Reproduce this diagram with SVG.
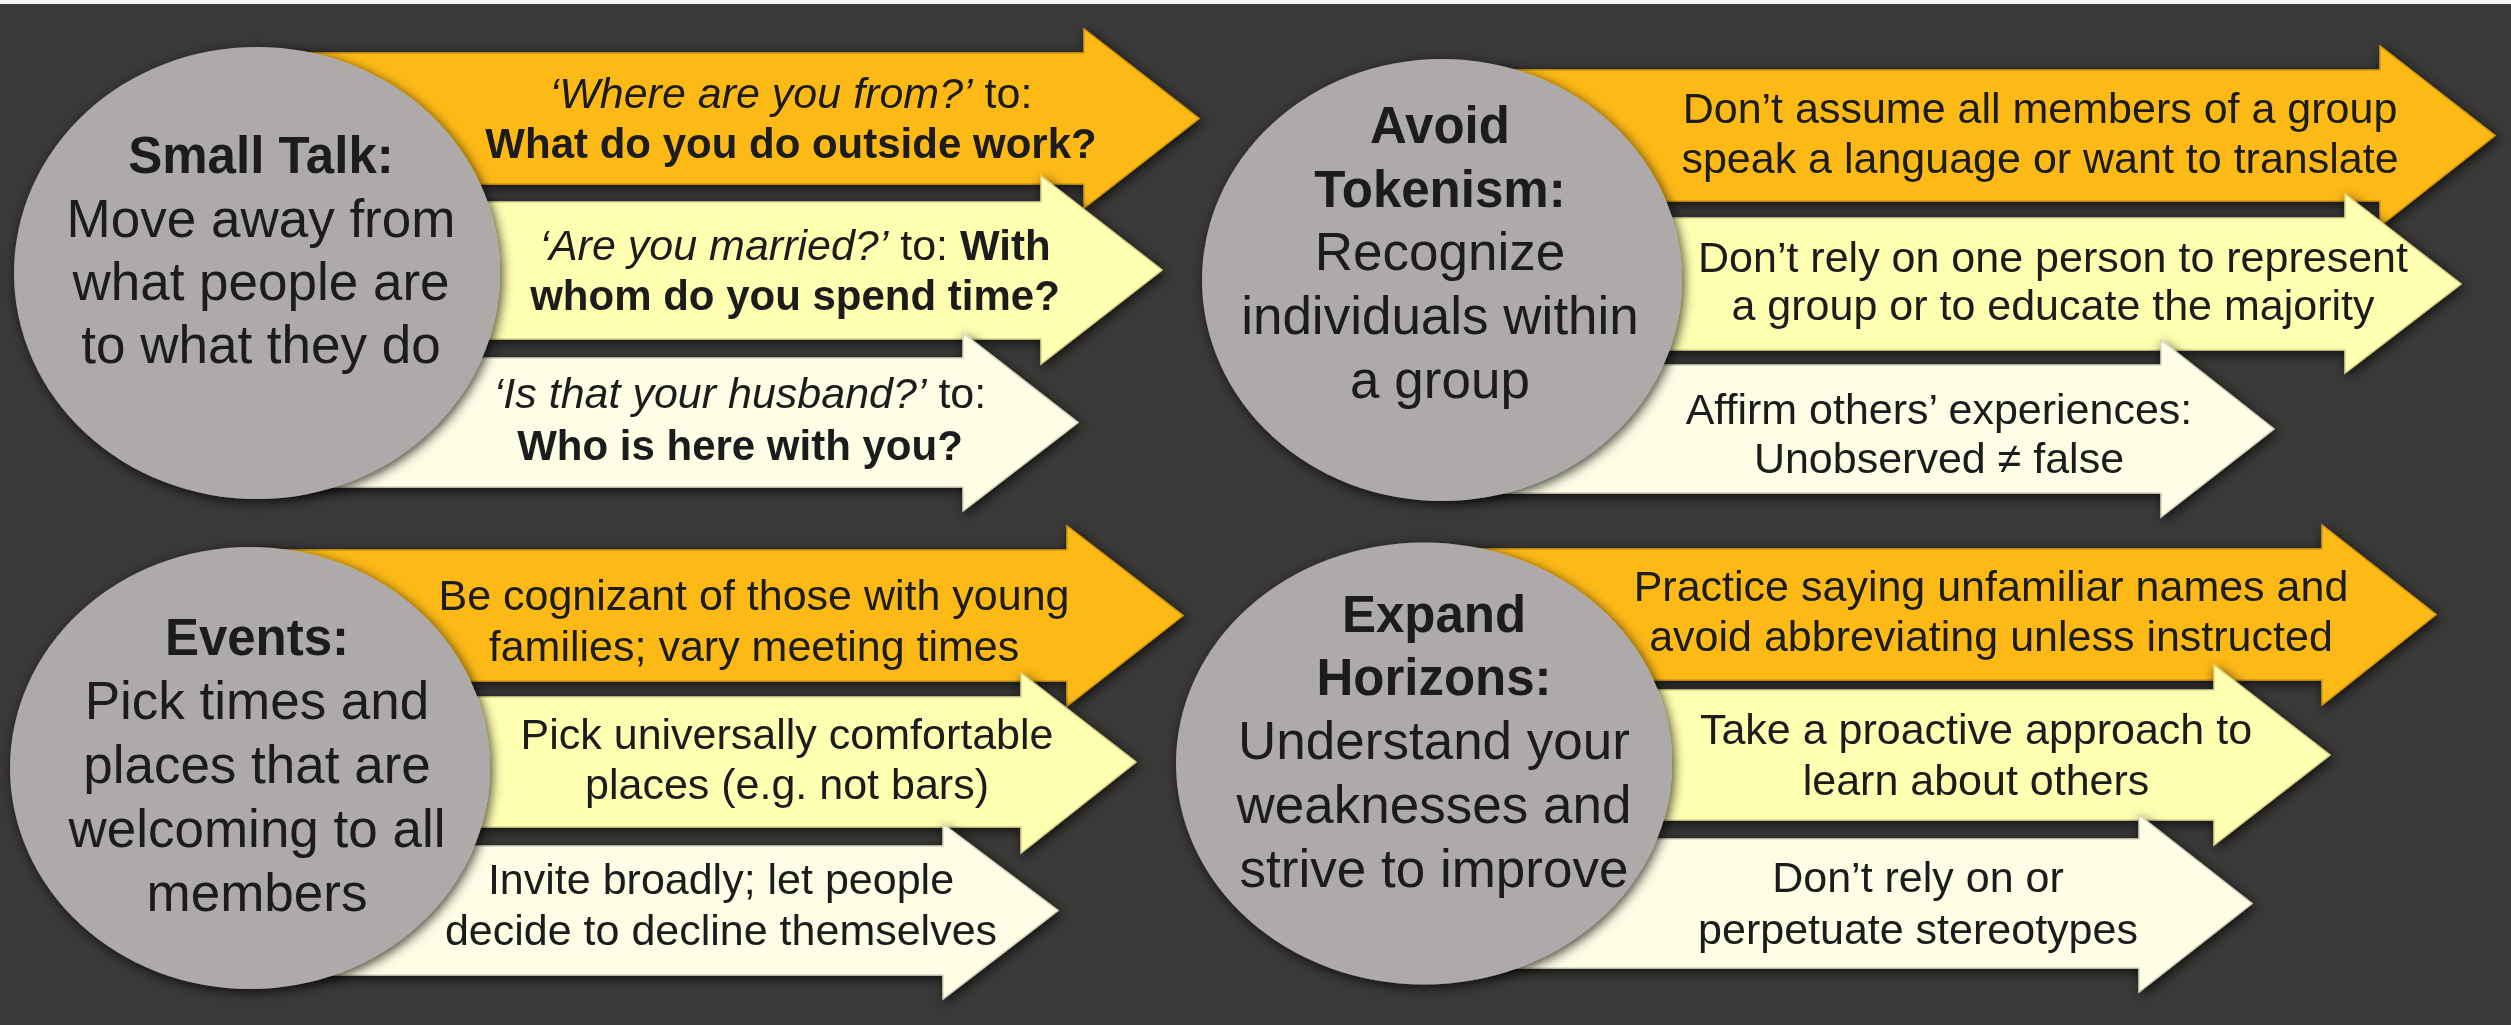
<svg xmlns="http://www.w3.org/2000/svg" width="2511" height="1025" viewBox="0 0 2511 1025">
  <defs>
    <style>
      .t { font-family: "Liberation Sans", Arial, Helvetica, sans-serif; fill: #1a1a1a; text-anchor: middle; }
      .c { font-size: 53px; }
      .ct { font-size: 51px; font-weight: bold; }
      .a { font-size: 43px; }
      .b { font-weight: bold; font-size: 42px; }
      .i { font-style: italic; }
      .orange { fill: #fdb913; stroke: #d39a12; stroke-width: 1.5; }
      .yellow { fill: #ffffb2; stroke: #d8d48c; stroke-width: 1.5; }
      .pale { fill: #fefee6; stroke: #d6d5c0; stroke-width: 1.5; }
      .disc { fill: #adaaa9; }
    </style>
    <filter id="shadow" x="-15%" y="-25%" width="130%" height="150%">
      <feGaussianBlur in="SourceAlpha" stdDeviation="6"/>
      <feOffset dx="2" dy="3" result="blur"/>
      <feFlood flood-color="#000000" flood-opacity="0.75"/>
      <feComposite in2="blur" operator="in"/>
      <feMerge>
        <feMergeNode/>
        <feMergeNode in="SourceGraphic"/>
      </feMerge>
    </filter>
  </defs>

  <!-- backdrop -->
  <rect x="0" y="0" width="2511" height="1025" fill="#3a3937"/>
  <rect x="0" y="0" width="2511" height="4" fill="#f4f4f4"/>

  <!-- ===== Small Talk ===== -->
  <g id="arrow-where-from" filter="url(#shadow)">
    <path class="orange" d="M257,53 L1084,53 L1084,29 L1199,118.5 L1084,208 L1084,184 L257,184 Z"/>
    <text class="t a" x="791" y="108"><tspan class="i">‘Where are you from?’</tspan> to:</text>
    <text class="t b" x="791" y="158">What do you do outside work?</text>
  </g>
  <g id="arrow-married" filter="url(#shadow)">
    <path class="yellow" d="M257,202 L1041,202 L1041,176 L1162,270 L1041,364 L1041,339 L257,339 Z"/>
    <text class="t a" x="795" y="260"><tspan class="i">‘Are you married?’</tspan> to: <tspan class="b">With</tspan></text>
    <text class="t b" x="795" y="310">whom do you spend time?</text>
  </g>
  <g id="arrow-husband" filter="url(#shadow)">
    <path class="pale" d="M257,358 L963,358 L963,333 L1078,422.5 L963,511 L963,487 L257,487 Z"/>
    <text class="t a" x="740" y="408"><tspan class="i">‘Is that your husband?’</tspan> to:</text>
    <text class="t b" x="740" y="460">Who is here with you?</text>
  </g>
  <g id="small-talk" filter="url(#shadow)">
    <ellipse class="disc" cx="257" cy="273" rx="243" ry="226"/>
    <text class="t ct" x="261" y="173">Small Talk:</text>
    <text class="t c" x="261" y="237">Move away from</text>
    <text class="t c" x="261" y="300">what people are</text>
    <text class="t c" x="261" y="363">to what they do</text>
  </g>

  <!-- ===== Avoid Tokenism ===== -->
  <g id="arrow-language" filter="url(#shadow)">
    <path class="orange" d="M1442,70 L2380,70 L2380,46 L2495,135.5 L2380,226 L2380,201 L1442,201 Z"/>
    <text class="t a" x="2040" y="123">Don’t assume all members of a group</text>
    <text class="t a" x="2040" y="173">speak a language or want to translate</text>
  </g>
  <g id="arrow-represent" filter="url(#shadow)">
    <path class="yellow" d="M1442,218 L2345,218 L2345,194 L2461,284 L2345,373 L2345,350 L1442,350 Z"/>
    <text class="t a" x="2053" y="272">Don’t rely on one person to represent</text>
    <text class="t a" x="2053" y="320">a group or to educate the majority</text>
  </g>
  <g id="arrow-affirm" filter="url(#shadow)">
    <path class="pale" d="M1442,365 L2161,365 L2161,340 L2274,429 L2161,517 L2161,493 L1442,493 Z"/>
    <text class="t a" x="1939" y="424">Affirm others’ experiences:</text>
    <text class="t a" x="1939" y="473">Unobserved ≠ false</text>
  </g>
  <g id="avoid-tokenism" filter="url(#shadow)">
    <ellipse class="disc" cx="1442" cy="280" rx="240" ry="221"/>
    <text class="t ct" x="1440" y="143">Avoid</text>
    <text class="t ct" x="1440" y="207">Tokenism:</text>
    <text class="t c" x="1440" y="270">Recognize</text>
    <text class="t c" x="1440" y="334">individuals within</text>
    <text class="t c" x="1440" y="398">a group</text>
  </g>

  <!-- ===== Events ===== -->
  <g id="arrow-families" filter="url(#shadow)">
    <path class="orange" d="M250,550 L1067,550 L1067,526 L1183,615.5 L1067,706 L1067,681 L250,681 Z"/>
    <text class="t a" x="754" y="610">Be cognizant of those with young</text>
    <text class="t a" x="754" y="661">families; vary meeting times</text>
  </g>
  <g id="arrow-places" filter="url(#shadow)">
    <path class="yellow" d="M250,697 L1021,697 L1021,673 L1136,762 L1021,853 L1021,827 L250,827 Z"/>
    <text class="t a" x="787" y="749">Pick universally comfortable</text>
    <text class="t a" x="787" y="799">places (e.g. not bars)</text>
  </g>
  <g id="arrow-invite" filter="url(#shadow)">
    <path class="pale" d="M250,846 L943,846 L943,824 L1058,910.5 L943,999 L943,975 L250,975 Z"/>
    <text class="t a" x="721" y="894">Invite broadly; let people</text>
    <text class="t a" x="721" y="945">decide to decline themselves</text>
  </g>
  <g id="events" filter="url(#shadow)">
    <ellipse class="disc" cx="250" cy="768" rx="240" ry="221"/>
    <text class="t ct" x="257" y="655">Events:</text>
    <text class="t c" x="257" y="719">Pick times and</text>
    <text class="t c" x="257" y="783">places that are</text>
    <text class="t c" x="257" y="847">welcoming to all</text>
    <text class="t c" x="257" y="911">members</text>
  </g>

  <!-- ===== Expand Horizons ===== -->
  <g id="arrow-names" filter="url(#shadow)">
    <path class="orange" d="M1424,549 L2322,549 L2322,525 L2436,614.5 L2322,705 L2322,680 L1424,680 Z"/>
    <text class="t a" x="1991" y="601">Practice saying unfamiliar names and</text>
    <text class="t a" x="1991" y="651">avoid abbreviating unless instructed</text>
  </g>
  <g id="arrow-proactive" filter="url(#shadow)">
    <path class="yellow" d="M1424,690 L2214,690 L2214,665 L2330,755 L2214,845 L2214,820 L1424,820 Z"/>
    <text class="t a" x="1976" y="744">Take a proactive approach to</text>
    <text class="t a" x="1976" y="795">learn about others</text>
  </g>
  <g id="arrow-stereotypes" filter="url(#shadow)">
    <path class="pale" d="M1424,839 L2139,839 L2139,815 L2252,903.5 L2139,992 L2139,968 L1424,968 Z"/>
    <text class="t a" x="1918" y="892">Don’t rely on or</text>
    <text class="t a" x="1918" y="944">perpetuate stereotypes</text>
  </g>
  <g id="expand-horizons" filter="url(#shadow)">
    <ellipse class="disc" cx="1424" cy="763.5" rx="248" ry="221"/>
    <text class="t ct" x="1434" y="632">Expand</text>
    <text class="t ct" x="1434" y="695">Horizons:</text>
    <text class="t c" x="1434" y="759">Understand your</text>
    <text class="t c" x="1434" y="823">weaknesses and</text>
    <text class="t c" x="1434" y="887">strive to improve</text>
  </g>
</svg>
